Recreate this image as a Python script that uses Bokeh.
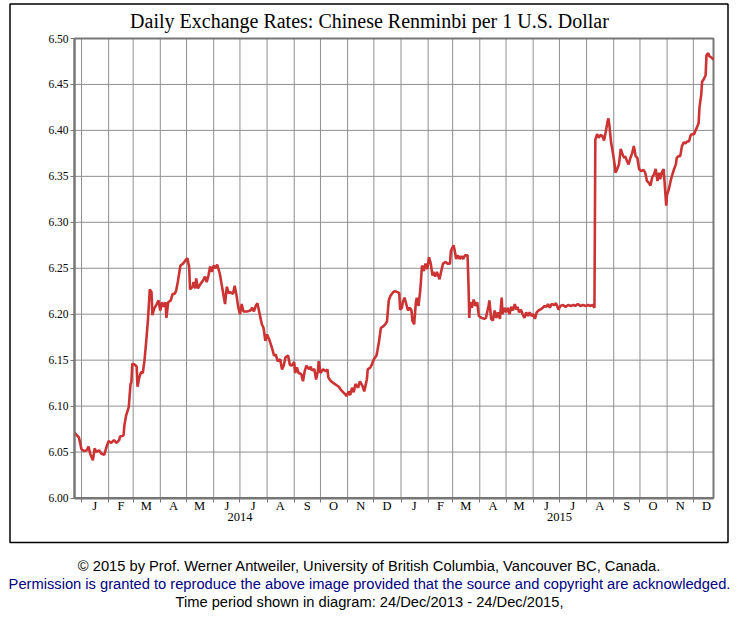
import datetime as dt
from bokeh.plotting import figure
from bokeh.models import (LinearAxis, FixedTicker, Label, Range1d, PrintfTickFormatter)
from bokeh.embed import file_html
from bokeh.resources import INLINE

# ---------------- data ----------------
START = dt.date(2013, 12, 24)
END = dt.date(2015, 12, 24)

# days since 24 Dec 2013
days = [0, 5, 8, 11, 14, 16, 18, 21, 23, 25, 28, 31, 34, 37, 39, 42, 45, 48, 51, 52,
        56, 57, 59, 62, 64, 65, 66, 69, 71, 72, 74, 76, 78, 80, 82, 84, 86, 88, 89, 91,
        94, 96, 98, 100, 102, 104, 105, 107, 110, 112, 114, 116, 118, 121, 124, 127, 129, 131, 132, 135,
        136, 138, 139, 141, 144, 147, 149, 151, 153, 155, 157, 159, 161, 163, 166, 168, 170, 172, 174, 176,
        178, 181, 183, 185, 187, 189, 191, 193, 197, 201, 203, 205, 207, 209, 212, 214, 216, 218, 220, 223,
        226, 228, 230, 232, 235, 237, 239, 241, 244, 246, 248, 251, 252, 254, 256, 259, 261, 263, 265, 268,
        270, 271, 274, 276, 278, 279, 281, 284, 287, 289, 290, 293, 296, 299, 302, 304, 306, 309, 311, 313,
        315, 317, 319, 321, 324, 326, 329, 331, 334, 335, 338, 340, 342, 345, 346, 348, 350, 353, 355, 357,
        359, 361, 364, 366, 369, 371, 372, 374, 375, 377, 379, 381, 383, 385, 386, 388, 390, 391, 393, 395,
        397, 399, 401, 403, 405, 407, 409, 410, 412, 414, 417, 419, 421, 424, 426, 429, 430, 433, 434, 436,
        438, 440, 442, 444, 446, 449, 450, 451, 452, 454, 456, 458, 460, 462, 465, 468, 470, 473, 474, 476,
        478, 480, 482, 484, 486, 488, 489, 491, 493, 495, 497, 499, 501, 503, 505, 506, 508, 510, 512, 514,
        516, 518, 520, 522, 524, 526, 528, 530, 532, 535, 537, 539, 541, 543, 545, 548, 550, 553, 555, 558,
        561, 564, 567, 570, 572, 575, 578, 581, 584, 587, 589, 592, 594, 595, 597, 599, 601, 603, 605, 607,
        609, 610, 611, 613, 615, 617, 618, 620, 622, 624, 626, 628, 629, 631, 633, 635, 637, 639, 641, 643,
        645, 647, 648, 650, 652, 654, 656, 658, 660, 662, 664, 666, 668, 669, 671, 673, 674, 676, 677, 679,
        681, 683, 685, 687, 688, 690, 692, 694, 696, 698, 700, 702, 704, 706, 708, 709, 711, 713, 714, 716,
        717, 719, 721, 722, 724, 725, 728, 730]

rates = [6.071, 6.066, 6.053, 6.051, 6.052, 6.056, 6.048, 6.041, 6.054, 6.050, 6.052, 6.048, 6.047, 6.057, 6.062, 6.060, 6.063, 6.060, 6.063, 6.067,
         6.068, 6.079, 6.090, 6.099, 6.124, 6.126, 6.146, 6.145, 6.143, 6.121, 6.131, 6.137, 6.136, 6.150, 6.171, 6.195, 6.227, 6.224, 6.199, 6.206,
         6.211, 6.215, 6.204, 6.213, 6.208, 6.213, 6.196, 6.213, 6.215, 6.222, 6.222, 6.225, 6.235, 6.253, 6.255, 6.259, 6.261, 6.251, 6.227, 6.230,
         6.235, 6.228, 6.239, 6.228, 6.233, 6.237, 6.241, 6.235, 6.242, 6.252, 6.246, 6.253, 6.250, 6.254, 6.244, 6.233, 6.222, 6.211, 6.230, 6.223,
         6.224, 6.222, 6.231, 6.221, 6.208, 6.200, 6.211, 6.203, 6.203, 6.204, 6.207, 6.203, 6.209, 6.212, 6.198, 6.189, 6.185, 6.171, 6.178, 6.171,
         6.162, 6.155, 6.156, 6.149, 6.151, 6.140, 6.144, 6.153, 6.155, 6.145, 6.144, 6.148, 6.136, 6.142, 6.136, 6.135, 6.127, 6.138, 6.144, 6.140,
         6.143, 6.139, 6.140, 6.129, 6.138, 6.149, 6.136, 6.140, 6.138, 6.140, 6.131, 6.127, 6.125, 6.123, 6.121, 6.118, 6.116, 6.113, 6.111, 6.116,
         6.112, 6.120, 6.115, 6.124, 6.120, 6.127, 6.122, 6.116, 6.129, 6.140, 6.142, 6.146, 6.151, 6.155, 6.160, 6.171, 6.185, 6.187, 6.189, 6.192,
         6.215, 6.220, 6.224, 6.225, 6.224, 6.223, 6.205, 6.207, 6.213, 6.218, 6.211, 6.204, 6.207, 6.204, 6.193, 6.189, 6.213, 6.218, 6.209, 6.226,
         6.253, 6.247, 6.255, 6.249, 6.262, 6.255, 6.242, 6.246, 6.241, 6.246, 6.238, 6.247, 6.255, 6.257, 6.255, 6.255, 6.269, 6.275, 6.271, 6.260,
         6.264, 6.260, 6.263, 6.260, 6.264, 6.264, 6.236, 6.196, 6.213, 6.207, 6.216, 6.209, 6.213, 6.198, 6.196, 6.195, 6.196, 6.209, 6.215, 6.195,
         6.193, 6.204, 6.196, 6.202, 6.195, 6.218, 6.200, 6.207, 6.202, 6.207, 6.200, 6.208, 6.204, 6.211, 6.205, 6.208, 6.202, 6.205, 6.200, 6.196,
         6.202, 6.198, 6.202, 6.198, 6.200, 6.195, 6.202, 6.204, 6.205, 6.207, 6.209, 6.208, 6.211, 6.207, 6.211, 6.210, 6.212, 6.205, 6.209, 6.210,
         6.208, 6.210, 6.209, 6.210, 6.209, 6.211, 6.209, 6.210, 6.209, 6.210, 6.209, 6.210, 6.207, 6.390, 6.396, 6.392, 6.395, 6.394, 6.389, 6.399,
         6.410, 6.413, 6.406, 6.387, 6.376, 6.363, 6.354, 6.358, 6.363, 6.380, 6.374, 6.370, 6.372, 6.367, 6.363, 6.370, 6.375, 6.383, 6.372, 6.370,
         6.358, 6.356, 6.356, 6.357, 6.354, 6.345, 6.343, 6.340, 6.349, 6.352, 6.358, 6.345, 6.354, 6.347, 6.354, 6.358, 6.345, 6.318, 6.330, 6.336,
         6.345, 6.352, 6.358, 6.363, 6.370, 6.372, 6.372, 6.383, 6.387, 6.386, 6.388, 6.388, 6.395, 6.396, 6.396, 6.399, 6.403, 6.408, 6.425, 6.439,
         6.453, 6.456, 6.460, 6.482, 6.484, 6.481, 6.479, 6.477]

month_letters = ["J", "F", "M", "A", "M", "J", "J", "A", "S", "O", "N", "D"]
years = [2014, 2015]
y_ticks = [6.00, 6.05, 6.10, 6.15, 6.20, 6.25, 6.30, 6.35, 6.40, 6.45, 6.50]

title_text = "Daily Exchange Rates: Chinese Renminbi per 1 U.S. Dollar"
footer = ["\u00a9 2015 by Prof. Werner Antweiler, University of British Columbia, Vancouver BC, Canada.",
          "Permission is granted to reproduce the above image provided that the source and copyright are acknowledged.",
          "Time period shown in diagram: 24/Dec/2013 - 24/Dec/2015,"]

# ---------------- derived tick positions ----------------
def off(d):
    return (d - START).days

bounds, mids, overrides = [], [], {}
for y in years:
    for m in range(1, 13):
        d0 = dt.date(y, m, 1)
        d1 = dt.date(y + (m == 12), m % 12 + 1, 1)
        bounds.append(off(d0))
        mid = (off(d0) + off(d1)) // 2
        mids.append(mid)
        overrides[mid] = month_letters[m - 1]
year_pos = [off(dt.date(y, 7, 1)) for y in years]
year_over = {yp: str(y) for yp, y in zip(year_pos, years)}
TOTAL = off(END)
Y0, Y1 = y_ticks[0], y_ticks[-1]

# ---------------- layout (page pixels) ----------------
W, H = 736, 621
PL, PR, PT, PB = 74.0, 713.0, 38.0, 497.5     # inner plot area
sx = (PR - PL) / TOTAL
sy = (PB - PT) / (Y1 - Y0)
t_range = Range1d(-PL / sx, TOTAL + (W - PR) / sx)
r_range = Range1d(Y0 - (H - PB) / sy, Y1 + PT / sy)

p = figure(width=W, height=H, x_range=Range1d(0, W), y_range=Range1d(H, 0),
           output_backend="svg", toolbar_location=None,
           x_axis_type=None, y_axis_type=None,
           min_border_left=0, min_border_right=0, min_border_top=0, min_border_bottom=0)
p.extra_x_ranges = {"t": t_range}
p.extra_y_ranges = {"r": r_range}
p.background_fill_color = "white"
p.border_fill_color = "white"
p.outline_line_color = None
p.xgrid.visible = False
p.ygrid.visible = False

SERIF = "Liberation Serif"
AXC = "#777777"
GRC = "#8f8f8f"
RN = dict(x_range_name="t", y_range_name="r")

# outer frame box
p.quad(left=[9.5], right=[727.5], top=[3.5], bottom=[542], fill_color=None,
       line_color="black", line_width=1.5)

# grid lines
p.segment(x0=bounds, x1=bounds, y0=[Y0] * len(bounds), y1=[Y1] * len(bounds),
          line_color=GRC, line_width=1, **RN)
p.segment(x0=[0] * len(y_ticks), x1=[TOTAL] * len(y_ticks), y0=y_ticks, y1=y_ticks,
          line_color=GRC, line_width=1, **RN)
# plot frame
p.quad(left=[0], right=[TOTAL], bottom=[Y0], top=[Y1], fill_color=None,
       line_color=AXC, line_width=2, **RN)

yax = LinearAxis(ticker=FixedTicker(ticks=y_ticks), formatter=PrintfTickFormatter(format="%.2f"),
                 fixed_location=0, bounds=(Y0, Y1), **RN,
                 axis_line_color=AXC, axis_line_width=2, major_tick_line_color=AXC,
                 major_tick_in=0, major_tick_out=4, minor_tick_line_color=None,
                 major_label_text_font=SERIF, major_label_text_font_size="11.5px",
                 major_label_text_color="black", major_label_standoff=2)
p.add_layout(yax, "left")

xax = LinearAxis(ticker=FixedTicker(ticks=mids, minor_ticks=bounds),
                 major_label_overrides=overrides, fixed_location=Y0, bounds=(0, TOTAL), **RN,
                 axis_line_color=AXC, axis_line_width=2,
                 major_tick_line_color=None, major_tick_in=0, major_tick_out=0,
                 minor_tick_line_color=AXC, minor_tick_in=0, minor_tick_out=4,
                 major_label_text_font=SERIF, major_label_text_font_size="12.5px",
                 major_label_text_color="black", major_label_standoff=-3)
p.add_layout(xax, "below")

yrax = LinearAxis(ticker=FixedTicker(ticks=year_pos), major_label_overrides=year_over,
                  fixed_location=Y0, bounds=(0, TOTAL), **RN,
                  axis_line_color=None, major_tick_line_color=None, minor_tick_line_color=None,
                  major_tick_in=0, major_tick_out=0,
                  major_label_text_font=SERIF, major_label_text_font_size="12.5px",
                  major_label_text_color="black", major_label_standoff=15)
p.add_layout(yrax, "below")

p.line(days, rates, line_color="#cc3333", line_width=2.6, **RN)

p.add_layout(Label(x=369, y=20, text=title_text, text_align="center", text_baseline="middle",
                   text_font=SERIF, text_font_size="20px", text_color="black"))

for txt, yy, col in zip(footer, [565, 583, 601], ["black", "#000080", "black"]):
    p.add_layout(Label(x=369, y=yy, text=txt, text_align="center", text_baseline="middle",
                       text_font="Liberation Sans", text_font_size="14.7px", text_color=col))

open("out.html", "w").write(file_html(p, INLINE))
